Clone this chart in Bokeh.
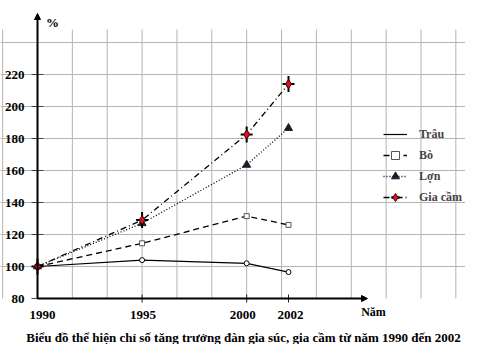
import numpy as np
from bokeh.plotting import figure
from bokeh.models import Arrow, NormalHead, Legend, LegendItem
from bokeh.core.properties import value
from bokeh.embed import file_html
from bokeh.resources import INLINE

# ---- data ----
years = [1990, 1995, 2000, 2002]
trau = [100, 104, 102, 96.5]
bo = [100, 114.5, 131.5, 126]
lon = [100, 127, 163.5, 186.5]
gia_cam = [100, 129, 182.5, 214]
y_ticks = [80, 100, 120, 140, 160, 180, 200, 220]
x_ticks = [1990, 1995, 2000, 2002]
x_tick_labels = ["1990", "1995", "2000", "2002"]
series_names = ["Trâu", "Bò", "Lợn", "Gia cầm"]
y_unit = "%"
x_unit = "Năm"
caption = "Biểu đồ thể hiện chỉ số tăng trưởng đàn gia súc, gia cầm từ năm 1990 đến 2002"

# ---- layout / scale ----
W, H = 465, 344
PX_YEAR = 251 / 12.0
PX_UNIT = 1.6
X0_PX, Y0_PX = 37, 298          # pixel position of (1990, 80)
x_start = 1990 - X0_PX / PX_YEAR
x_end = x_start + W / PX_YEAR
y_end = 80 + Y0_PX / PX_UNIT
y_start = y_end - H / PX_UNIT


def xs(px):
    return 1990 + (px - X0_PX) / PX_YEAR


def ys(py):
    return 80 + (Y0_PX - py) / PX_UNIT


FONT = value("Liberation Serif")

p = figure(width=W, height=H, x_range=(x_start, x_end), y_range=(y_start, y_end),
           x_axis_type=None, y_axis_type=None, toolbar_location=None,
           output_backend="svg", min_border=0)
p.outline_line_color = None
p.background_fill_color = "white"

# background grid (graph paper)
grid_color = "#b4b4b4"
gx = [1990 + k * 10 / 6 for k in range(-1, 13) if k != 0]
p.segment(x0=gx, y0=[80] * len(gx), x1=gx, y1=[ys(29)] * len(gx), line_color=grid_color, line_width=1)
gy = list(range(100, 241, 20))
p.segment(x0=[x_start] * len(gy), y0=gy, x1=[x_end] * len(gy), y1=gy, line_color=grid_color, line_width=1)

# tick marks
dx = 6 / PX_YEAR
p.segment(x0=[1990 - dx] * len(y_ticks), y0=y_ticks, x1=[1990 + dx] * len(y_ticks), y1=y_ticks,
          line_color="#444444", line_width=1)
dy = 4 / PX_UNIT
xt = x_ticks[1:]
p.segment(x0=xt, y0=[80 - dy] * len(xt), x1=xt, y1=[80 + dy] * len(xt), line_color="#222222", line_width=1)

# axes with arrows
p.add_layout(Arrow(x_start=1990, y_start=80, x_end=1990, y_end=ys(13), line_width=2, line_color="black",
                   end=NormalHead(size=6, fill_color="black", line_color="black")))
p.add_layout(Arrow(x_start=1990, y_start=80, x_end=xs(367), y_end=80, line_width=2, line_color="black",
                   end=NormalHead(size=6, fill_color="black", line_color="black")))

# series
r_trau = p.line(years, trau, line_color="black", line_width=1.2)
r_trau_m = p.scatter(years, trau, marker="circle", size=5, fill_color="white", line_color="black", line_width=1)

r_bo = p.line(years, bo, line_color="black", line_width=1.3, line_dash="6 4")
r_bo_m = p.scatter(years, bo, marker="square", size=5, fill_color="white", line_color="#555555", line_width=1)

r_lon = p.line(years, lon, line_color="black", line_width=1.3, line_dash="1 2")
r_lon_m = p.scatter(years, lon, marker="triangle", size=8, fill_color="#1c1c2c", line_color="#1c1c2c")

r_gc = p.line(years, gia_cam, line_color="black", line_width=1.3, line_dash="6 3 1 3")
r_gc_v = p.scatter(years, gia_cam, marker="dash", angle=np.pi / 2, size=16, line_color="black", line_width=2)
r_gc_h = p.scatter(years, gia_cam, marker="dash", size=12, line_color="black", line_width=2)
r_gc_d = p.scatter(years, gia_cam, marker="diamond", size=9, fill_color="#e01020", line_color="#400000", line_width=1)

# tick labels
p.text(x=[xs(24)] * len(y_ticks), y=y_ticks, text=[str(v) for v in y_ticks],
       text_font=FONT, text_font_style="bold", text_font_size="13px",
       text_align="right", text_baseline="middle", text_color="black")
x_label_offsets = [5, 1, -4, 2]
p.text(x=x_ticks, y=[ys(314)] * len(x_ticks), text=x_tick_labels, x_offset=x_label_offsets,
       text_font=FONT, text_font_style="bold", text_font_size="13px",
       text_align="center", text_baseline="middle", text_color="black")

# unit labels
p.text(x=[xs(52)], y=[ys(22)], text=[y_unit],
       text_font=FONT, text_font_style="bold", text_font_size="13px",
       text_align="center", text_baseline="middle")
p.text(x=[xs(373)], y=[ys(311)], text=[x_unit],
       text_font=FONT, text_font_style="bold", text_font_size="12px",
       text_align="center", text_baseline="middle")

# caption
p.text(x=[xs(243)], y=[ys(337)], text=[caption],
       text_font=FONT, text_font_style="bold", text_font_size="13px",
       text_align="center", text_baseline="middle")

# legend
legend = Legend(items=[
    LegendItem(label=series_names[0], renderers=[r_trau]),
    LegendItem(label=series_names[1], renderers=[r_bo, r_bo_m]),
    LegendItem(label=series_names[2], renderers=[r_lon, r_lon_m]),
    LegendItem(label=series_names[3], renderers=[r_gc, r_gc_v, r_gc_h, r_gc_d]),
], location=(383, 137), orientation="vertical")
legend.glyph_width = 24
legend.glyph_height = 20
legend.label_height = 20
legend.spacing = 1
legend.padding = 0
legend.margin = 0
legend.label_standoff = 12
legend.border_line_color = None
legend.background_fill_alpha = 0
legend.label_text_font = "Liberation Serif"
legend.label_text_font_style = "bold"
legend.label_text_font_size = "12px"
p.add_layout(legend, "center")

open("out.html", "w").write(file_html(p, INLINE))
